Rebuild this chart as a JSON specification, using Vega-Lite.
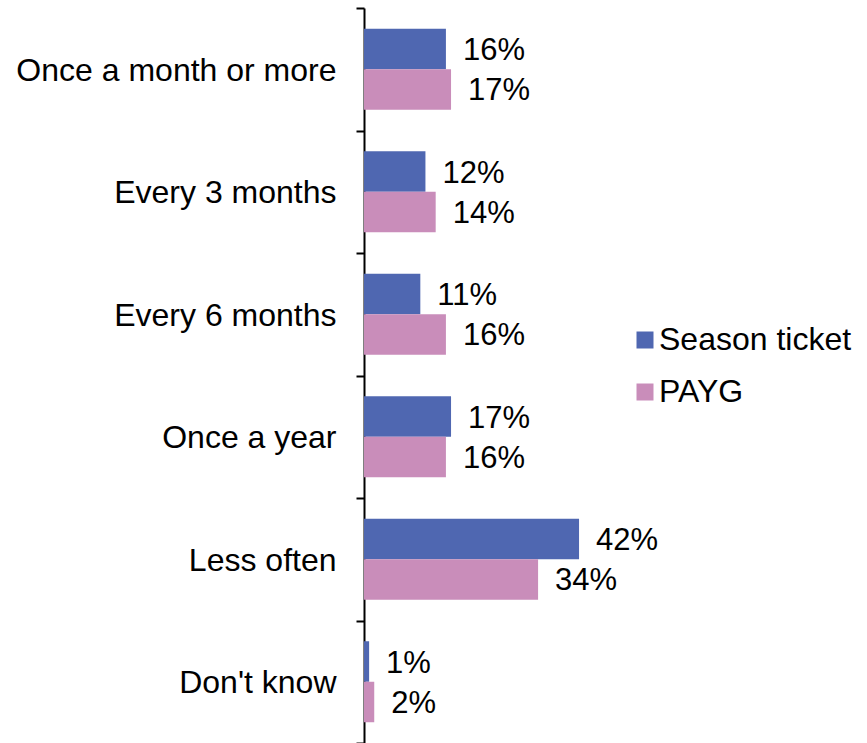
{
  "$schema": "https://vega.github.io/schema/vega-lite/v6.json",
  "autosize": {"type": "none"},
  "padding": {"left": 364, "top": 8, "right": 0, "bottom": 0},
  "width": 503,
  "height": 735,
  "background": "white",
  "config": {
    "view": {"stroke": null},
    "font": "Liberation Sans"
  },
  "data": {
    "values": [
      {"frequency": "Once a month or more", "series": "Season ticket", "value": 0.16},
      {"frequency": "Once a month or more", "series": "PAYG", "value": 0.17},
      {"frequency": "Every 3 months", "series": "Season ticket", "value": 0.12},
      {"frequency": "Every 3 months", "series": "PAYG", "value": 0.14},
      {"frequency": "Every 6 months", "series": "Season ticket", "value": 0.11},
      {"frequency": "Every 6 months", "series": "PAYG", "value": 0.16},
      {"frequency": "Once a year", "series": "Season ticket", "value": 0.17},
      {"frequency": "Once a year", "series": "PAYG", "value": 0.16},
      {"frequency": "Less often", "series": "Season ticket", "value": 0.42},
      {"frequency": "Less often", "series": "PAYG", "value": 0.34},
      {"frequency": "Don't know", "series": "Season ticket", "value": 0.01},
      {"frequency": "Don't know", "series": "PAYG", "value": 0.02}
    ]
  },
  "encoding": {
    "y": {
      "field": "frequency",
      "type": "nominal",
      "sort": ["Once a month or more", "Every 3 months", "Every 6 months", "Once a year", "Less often", "Don't know"],
      "scale": {"paddingInner": 0, "paddingOuter": 0},
      "axis": {
        "title": null,
        "tickBand": "extent",
        "domainColor": "black",
        "domainWidth": 2,
        "tickColor": "black",
        "tickWidth": 2,
        "tickSize": 8,
        "labelPadding": 20,
        "labelOffset": 1,
        "labelFontSize": 32,
        "labelColor": "black",
        "labelFont": "Liberation Sans",
        "labelLimit": 400
      }
    },
    "yOffset": {
      "field": "series",
      "type": "nominal",
      "sort": ["Season ticket", "PAYG"],
      "scale": {"paddingInner": 0, "paddingOuter": 0.5125}
    },
    "x": {
      "field": "value",
      "type": "quantitative",
      "scale": {"domain": [0, 0.9824]},
      "axis": null
    }
  },
  "layer": [
    {
      "mark": {"type": "bar"},
      "encoding": {
        "color": {
          "field": "series",
          "type": "nominal",
          "sort": ["Season ticket", "PAYG"],
          "scale": {"domain": ["Season ticket", "PAYG"], "range": ["#4F67B1", "#C98DBA"]},
          "legend": {
            "title": null,
            "orient": "none",
            "legendX": 265,
            "legendY": 316,
            "padding": 0,
            "symbolType": "square",
            "symbolSize": 289,
            "symbolStrokeWidth": 0,
            "labelFontSize": 32,
            "labelColor": "black",
            "labelFont": "Liberation Sans",
            "labelOffset": -2,
            "rowPadding": 20,
            "labelLimit": 300
          }
        }
      }
    },
    {
      "mark": {"type": "text", "align": "left", "baseline": "middle", "dx": 17, "dy": 2, "fontSize": 31, "color": "black", "font": "Liberation Sans"},
      "encoding": {
        "text": {"field": "value", "type": "quantitative", "format": ".0%"}
      }
    }
  ]
}
